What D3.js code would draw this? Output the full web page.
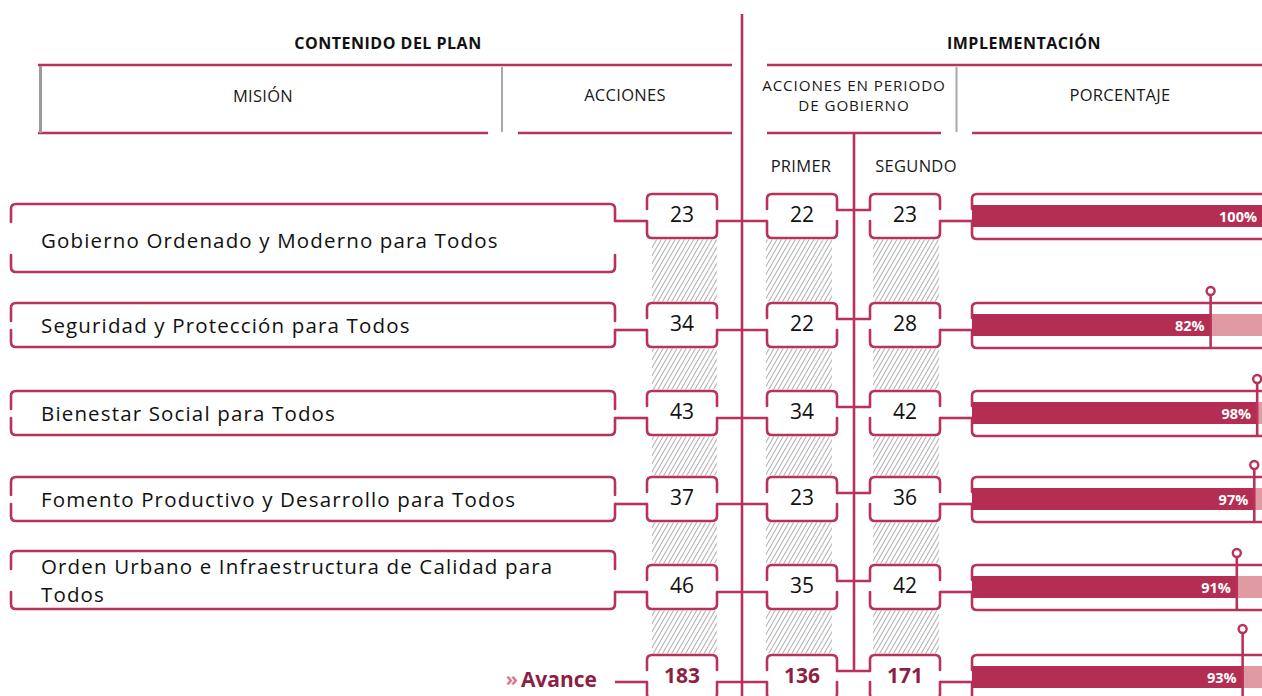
<!DOCTYPE html>
<html><head><meta charset="utf-8">
<script src="https://cdn.jsdelivr.net/npm/d3@7/dist/d3.min.js"></script>
<style>
html,body{margin:0;padding:0;background:#fff;overflow:hidden}
svg{display:block}
text{font-family:"Open Sans",sans-serif}
</style></head>
<body>
<svg id="chart" width="1262" height="696"></svg>
<script>
// ---------- data ----------
const misiones = [
  ["Gobierno Ordenado y Moderno para Todos"],
  ["Seguridad y Protección para Todos"],
  ["Bienestar Social para Todos"],
  ["Fomento Productivo y Desarrollo para Todos"],
  ["Orden Urbano e Infraestructura de Calidad para", "Todos"]
];
const acciones = [23, 34, 43, 37, 46];
const primer   = [22, 22, 34, 23, 35];
const segundo  = [23, 28, 42, 36, 42];
const porcentaje = [100, 82, 98, 97, 91];
const totalLabel = "Avance";
const totalAcciones = 183, totalPrimer = 136, totalSegundo = 171, totalPorcentaje = 93;
const tituloIzq = "CONTENIDO DEL PLAN", tituloDer = "IMPLEMENTACIÓN";
const colHeaders = ["MISIÓN", "ACCIONES", ["ACCIONES EN PERIODO", "DE GOBIERNO"], "PORCENTAJE"];
const subHeaders = ["PRIMER", "SEGUNDO"];

// ---------- layout ----------
const RED = "#b8325a", BAR = "#b42d53", PINK = "#e09ba2", DARK = "#8e1f44", GRAY = "#9a9a9a";
const SW = 2.6;
const rowTops = [194, 303, 391, 477, 565, 655];         // number boxes (5 rows + total)
const missionBoxes = [[204, 272], [303, 347], [391, 435], [477, 521], [551, 609]];
const BOXH = 44;
const colX = {acc: [647, 717], pri: [767, 837], seg: [870, 940]};
const MX0 = 11, MX1 = 615, PX0 = 972;

const svg = d3.select("#chart");
const xPct = d3.scaleLinear().domain([0, 100]).range([PX0, 1263]);
const rowIdx = d3.range(rowTops.length);
const yRow = d3.scaleOrdinal().domain(rowIdx).range(rowTops);

// hatch pattern
const defs = svg.append("defs");
const pat = defs.append("pattern").attr("id", "hatch").attr("patternUnits", "userSpaceOnUse")
  .attr("width", 4).attr("height", 4).attr("patternTransform", "rotate(30)");
pat.append("line").attr("x1", 0).attr("y1", 0).attr("x2", 0).attr("y2", 4)
  .attr("stroke", "#777").attr("stroke-width", 1.2);

const g = svg.append("g");

// ---------- titles / headers ----------
g.append("text").attr("x", 388).attr("y", 43).attr("text-anchor", "middle").attr("dominant-baseline", "central")
  .attr("font-size", 16).attr("letter-spacing", 0.5).attr("font-weight", 700).attr("fill", "#111").text(tituloIzq);
g.append("text").attr("x", 1024).attr("y", 43).attr("text-anchor", "middle").attr("dominant-baseline", "central")
  .attr("font-size", 16).attr("letter-spacing", 0.5).attr("font-weight", 700).attr("fill", "#111").text(tituloDer);

const hline = (x0, x1, y, c = RED, w = SW) => g.append("line").attr("x1", x0).attr("x2", x1).attr("y1", y).attr("y2", y)
  .attr("stroke", c).attr("stroke-width", w);
const vline = (x, y0, y1, c = RED, w = SW) => g.append("line").attr("x1", x).attr("x2", x).attr("y1", y0).attr("y2", y1)
  .attr("stroke", c).attr("stroke-width", w);

hline(38, 732, 65); hline(767, 1262, 65);
hline(38, 488, 133); hline(518, 732, 133); hline(767, 941, 133); hline(972, 1262, 133);
vline(40.5, 66, 133, GRAY, 3); vline(502, 67, 132, "#a8a8a8", 2); vline(956.5, 67, 132, "#a8a8a8", 2);

const hdr = (x, y, t, fs = 16.5, ls = 0.3) => g.append("text").attr("x", x).attr("y", y).attr("text-anchor", "middle")
  .attr("dominant-baseline", "central").attr("font-size", fs).attr("letter-spacing", ls)
  .attr("fill", "#1a1a1a").text(t);
hdr(263, 95, colHeaders[0]);
hdr(625, 94, colHeaders[1]);
hdr(854, 84.5, colHeaders[2][0], 15.2, 0.9); hdr(854, 105, colHeaders[2][1], 15.2, 0.9);
hdr(1120, 94, colHeaders[3]);
hdr(801, 165, subHeaders[0]); hdr(916, 165, subHeaders[1]);

// ---------- hatch strips ----------
const hatchCols = [[652, 717], [766, 832], [873, 939]];
hatchCols.forEach(([a, b]) => {
  g.selectAll(null).data(d3.range(rowTops.length - 1)).join("rect")
    .attr("x", a).attr("width", b - a)
    .attr("y", i => yRow(i) + BOXH + 1.5).attr("height", i => yRow(i + 1) - yRow(i) - BOXH - 3)
    .attr("fill", "url(#hatch)");
});

// ---------- main vertical lines ----------
vline(742, 14, 696);
vline(854, 133, yRow(5) + 16);

// ---------- box paths ----------
function boxPath(x0, x1, T, B, lg, rg, r = 5) {
  return `M${x0},${lg[0]} L${x0},${T + r} Q${x0},${T} ${x0 + r},${T} L${x1 - r},${T} Q${x1},${T} ${x1},${T + r} L${x1},${rg[0]}` +
         ` M${x0},${lg[1]} L${x0},${B - r} Q${x0},${B} ${x0 + r},${B} L${x1 - r},${B} Q${x1},${B} ${x1},${B - r} L${x1},${rg[1]}`;
}
const strokeStyle = sel => sel.attr("fill", "none").attr("stroke", RED).attr("stroke-width", SW).attr("stroke-linecap", "round");

// mission boxes
missionBoxes.forEach(([T, B], i) => {
  const cy = yRow(i) + 27;
  const lg = [T + 18, Math.max(T + 27, B - 17)];
  const rg = (cy - T < 25) ? [cy, B - 17] : [T + 18, cy];
  g.append("path").attr("d", boxPath(MX0, MX1, T, B, lg, rg)).call(strokeStyle);
});

// mission texts
misiones.forEach((lines, i) => {
  const [T, B] = missionBoxes[i];
  const mid = i === 0 ? 239.5 : (T + B) / 2 - 0.5;
  const lh = 28;
  lines.forEach((ln, j) => {
    g.append("text").attr("x", 41).attr("y", mid + (j - (lines.length - 1) / 2) * lh)
      .attr("dominant-baseline", "central").attr("font-size", 20.5).attr("letter-spacing", 1.15)
      .attr("fill", "#111").text(ln);
  });
});

// number boxes
const allAcc = acciones.concat([totalAcciones]);
const allPri = primer.concat([totalPrimer]);
const allSeg = segundo.concat([totalSegundo]);
const allPct = porcentaje.concat([totalPorcentaje]);

rowIdx.forEach(i => {
  const T = yRow(i), B = T + BOXH;
  const [a0, a1] = colX.acc, [p0, p1] = colX.pri, [s0, s1] = colX.seg;
  g.append("path").attr("d", boxPath(a0, a1, T, B, [T + 15, T + 27], [T + 15, T + 27])).call(strokeStyle);
  g.append("path").attr("d", boxPath(p0, p1, T, B, [T + 15, T + 27], [T + 16, T + 27])).call(strokeStyle);
  g.append("path").attr("d", boxPath(s0, s1, T, B, [T + 16, T + 27], [T + 15, T + 27])).call(strokeStyle);
  // connectors
  hline(MX1, a0, T + 27);
  hline(a1, p0, T + 27);
  hline(p1, s0, T + 16);
  hline(s1, PX0, T + 27);
});

// numbers
const isTot = i => i === rowTops.length - 1;
const numText = (arr, cx) => g.selectAll(null).data(arr).join("text")
  .attr("x", cx).attr("y", (d, i) => yRow(i) + 20).attr("text-anchor", "middle").attr("dominant-baseline", "central")
  .attr("font-size", 21).attr("font-weight", (d, i) => isTot(i) ? 700 : 400)
  .attr("fill", (d, i) => isTot(i) ? DARK : "#111").text(d => d);
numText(allAcc, 682);
numText(allPri, 802);
numText(allSeg, 905);

// total label
g.append("text").attr("x", 597).attr("y", yRow(5) + 24).attr("text-anchor", "end").attr("dominant-baseline", "central")
  .attr("font-size", 21).attr("font-weight", 700).attr("fill", DARK).text(totalLabel);
g.append("text").attr("x", 518).attr("y", yRow(5) + 23).attr("text-anchor", "end").attr("dominant-baseline", "central")
  .attr("font-size", 20).attr("font-weight", 700).attr("fill", "#d9788f").text("»");

// ---------- percentage boxes ----------
rowIdx.forEach(i => {
  const T = yRow(i), B = T + BOXH + 1, r = 5;
  g.append("path").attr("d",
    `M1275,${T} L${PX0 + r},${T} Q${PX0},${T} ${PX0},${T + r} L${PX0},${T + 15} M${PX0},${T + 27} L${PX0},${B - r} Q${PX0},${B} ${PX0 + r},${B} L1275,${B}`)
    .call(strokeStyle);
});
// background (remaining)
g.selectAll(null).data(allPct).join("rect")
  .attr("x", d => xPct(d)).attr("width", d => xPct(100) - xPct(d))
  .attr("y", (d, i) => yRow(i) + 11).attr("height", 22).attr("fill", PINK);
g.selectAll(null).data(allPct).join("rect")
  .attr("x", xPct(0)).attr("width", d => xPct(d) - xPct(0))
  .attr("y", (d, i) => yRow(i) + 11).attr("height", 22).attr("fill", BAR);
// markers
allPct.forEach((d, i) => {
  if (d >= 100) return;
  const T = yRow(i), cy = isTot(i) ? T - 26 : T - 12;
  vline(xPct(d), cy + 4, T + BOXH + 1);
  g.append("circle").attr("cx", xPct(d)).attr("cy", cy).attr("r", 4).attr("fill", "#fff")
    .attr("stroke", RED).attr("stroke-width", 2.4);
});
g.selectAll(null).data(allPct).join("text")
  .attr("x", d => Math.min(xPct(d) - 6, 1259)).attr("y", (d, i) => yRow(i) + 22)
  .attr("text-anchor", "end").attr("dominant-baseline", "central")
  .attr("font-size", 14.5).attr("font-weight", 700).attr("fill", "#fff").text(d => d + "%");
</script>
</body></html>
